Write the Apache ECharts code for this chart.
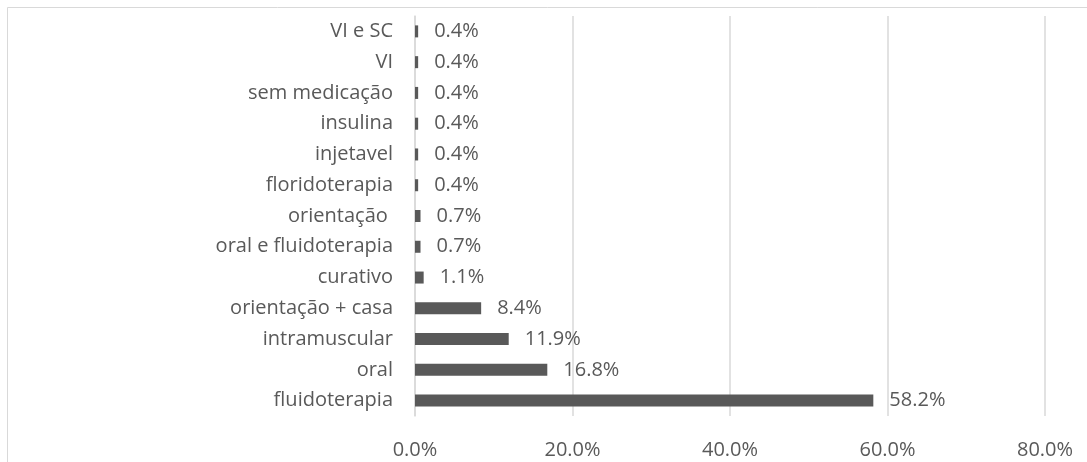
<!DOCTYPE html>
<html>
<head>
<meta charset="utf-8">
<script src="https://cdn.jsdelivr.net/npm/echarts@6/dist/echarts.min.js"></script>
<style>
html,body{margin:0;padding:0;background:#fff;}
#chart{width:1087px;height:462px;}
</style>
</head>
<body>
<div id="chart"></div>
<script>
// Categories listed bottom to top
const categories = [
  'fluidoterapia', 'oral', 'intramuscular', 'orientação + casa', 'curativo',
  'oral e fluidoterapia', 'orientação ', 'floridoterapia', 'injetavel',
  'insulina', 'sem medicação', 'VI', 'VI e SC'
];
const values = [58.2, 16.8, 11.9, 8.4, 1.1, 0.7, 0.7, 0.4, 0.4, 0.4, 0.4, 0.4, 0.4];
const xTicks = [0, 20, 40, 60, 80];

const FONT = 'Open Sans';
const TXT = '#595959';
const chart = echarts.init(document.getElementById('chart'), null, {renderer: 'canvas'});
chart.setOption({
  animation: false,
  backgroundColor: '#ffffff',
  grid: {left: 415, right: 42, top: 16, bottom: 46, containLabel: false},
  graphic: [
    {type: 'line', shape: {x1: 7.5, y1: 7.5, x2: 1087, y2: 7.5}, style: {stroke: '#d9d9d9', lineWidth: 1}},
    {type: 'line', shape: {x1: 7.5, y1: 7.5, x2: 7.5, y2: 462}, style: {stroke: '#d9d9d9', lineWidth: 1}}
  ],
  xAxis: {
    type: 'value',
    min: xTicks[0],
    max: xTicks[xTicks.length - 1],
    interval: xTicks[1] - xTicks[0],
    axisLine: {show: false},
    axisTick: {show: false},
    splitLine: {show: true, lineStyle: {color: '#d9d9d9', width: 1.5}},
    axisLabel: {
      color: TXT, fontFamily: FONT, fontSize: 20, margin: 24,
      formatter: v => v.toFixed(1) + '%'
    }
  },
  yAxis: {
    type: 'category',
    data: categories,
    axisLine: {show: true, lineStyle: {color: '#d9d9d9', width: 1.5}},
    axisTick: {show: false},
    axisLabel: {color: TXT, fontFamily: FONT, fontSize: 20, margin: 22}
  },
  series: [{
    type: 'bar',
    data: values,
    barWidth: 12,
    itemStyle: {color: '#595959'},
    label: {
      show: true, position: 'right', distance: 16,
      color: TXT, fontFamily: FONT, fontSize: 20,
      formatter: p => p.value.toFixed(1) + '%'
    }
  }]
});
</script>
</body>
</html>
